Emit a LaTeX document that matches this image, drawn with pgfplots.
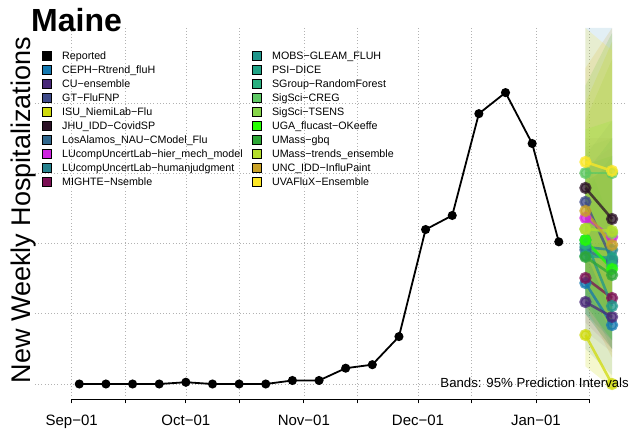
\documentclass[border=0pt]{standalone}
\usepackage{fontspec}
\setmainfont{Liberation Sans}
\usepackage{pgfplots}
\pgfplotsset{compat=1.18}
\definecolor{cCEPH}{HTML}{1478B0}
\definecolor{cCU}{HTML}{482878}
\definecolor{cGT}{HTML}{3E4A89}
\definecolor{cISU}{HTML}{CFDA0C}
\definecolor{cJHU}{HTML}{2B1126}
\definecolor{cLANL}{HTML}{31688E}
\definecolor{cLUh}{HTML}{CF23E0}
\definecolor{cLUj}{HTML}{26828E}
\definecolor{cMIG}{HTML}{7B0F54}
\definecolor{cMOBS}{HTML}{1F968B}
\definecolor{cPSI}{HTML}{20A386}
\definecolor{cSG}{HTML}{29AF7F}
\definecolor{cSSC}{HTML}{5DC863}
\definecolor{cSST}{HTML}{86D549}
\definecolor{cUGA}{HTML}{24FF00}
\definecolor{cGBQ}{HTML}{2DA636}
\definecolor{cUMT}{HTML}{B4DE2C}
\definecolor{cUNC}{HTML}{C9A227}
\definecolor{cUVA}{HTML}{FDE725}
\begin{document}
\begin{tikzpicture}
\path[use as bounding box] (0,0) rectangle (632pt,432pt);
\begin{axis}[
  at={(35pt,32.7pt)}, anchor=south west,
  scale only axis, width=590pt, height=371.3pt,
  xmin=-9.64, xmax=145.4, ymin=-8.72, ymax=202.8,
  clip=false,
  axis line style={draw=none},
  xtick={0,30,61,91,122},
  xticklabels={Sep−01,Oct−01,Nov−01,Dec−01,Jan−01},
  minor xtick={14,44,75,105,136},
  xtick pos=bottom, xtick align=outside,
  major tick length=4pt, minor tick length=4pt,
  xtick style={black, line width=0.8pt},
  minor tick style={black, line width=0.8pt},
  ytick={0,40,80,120,160}, yticklabels={}, ytick style={draw=none},
  xmajorgrids, xminorgrids, ymajorgrids,
  grid style={gray!60, line width=0.6pt, dash pattern=on 0.8pt off 2.4pt},
  minor grid style={gray!60, line width=0.6pt, dash pattern=on 0.8pt off 2.4pt},
  xticklabel style={font=\fontsize{15}{18}\selectfont, inner sep=0pt, anchor=base, yshift=-22.6pt},
  legend columns=2,
  legend cell align=left,
  legend image code/.code={\fill[#1] (0pt,-4.5pt) rectangle (9pt,4.5pt);},
  legend style={draw=none, fill=none, inner sep=0pt, outer sep=0pt,
    at={(0.0115,0.939)}, anchor=north west,
    font=\fontsize{10.7}{12}\selectfont,
    row sep=4pt,
    nodes={inner sep=0pt, text height=8.4pt, text depth=1.6pt},
    /tikz/every odd column/.style={column sep=11pt},
    /tikz/every even column/.style={column sep=9pt}},
]
% legend (column-major order interleaved)
\addlegendimage{fill=black}\addlegendentry{Reported}
\addlegendimage{fill=cMOBS}\addlegendentry{MOBS−GLEAM\_FLUH}
\addlegendimage{fill=cCEPH}\addlegendentry{CEPH−Rtrend\_fluH}
\addlegendimage{fill=cPSI}\addlegendentry{PSI−DICE}
\addlegendimage{fill=cCU}\addlegendentry{CU−ensemble}
\addlegendimage{fill=cSG}\addlegendentry{SGroup−RandomForest}
\addlegendimage{fill=cGT}\addlegendentry{GT−FluFNP}
\addlegendimage{fill=cSSC}\addlegendentry{SigSci−CREG}
\addlegendimage{fill=cISU}\addlegendentry{ISU\_NiemiLab−Flu}
\addlegendimage{fill=cSST}\addlegendentry{SigSci−TSENS}
\addlegendimage{fill=cJHU}\addlegendentry{JHU\_IDD−CovidSP}
\addlegendimage{fill=cUGA}\addlegendentry{UGA\_flucast−OKeeffe}
\addlegendimage{fill=cLANL}\addlegendentry{LosAlamos\_NAU−CModel\_Flu}
\addlegendimage{fill=cGBQ}\addlegendentry{UMass−gbq}
\addlegendimage{fill=cLUh}\addlegendentry{LUcompUncertLab−hier\_mech\_model}
\addlegendimage{fill=cUMT}\addlegendentry{UMass−trends\_ensemble}
\addlegendimage{fill=cLUj}\addlegendentry{LUcompUncertLab−humanjudgment}
\addlegendimage{fill=cUNC}\addlegendentry{UNC\_IDD−InfluPaint}
\addlegendimage{fill=cMIG}\addlegendentry{MIGHTE−Nsemble}
\addlegendimage{fill=cUVA}\addlegendentry{UVAFluX−Ensemble}

% 95% prediction bands: (135,lo) (142,lo) (142,hi) (135,hi)
\pgfplotsset{band/.style 2 args={fill=#1, fill opacity=#2, draw=none, forget plot}}
\addplot[band={cCEPH}{0.12}] coordinates {(135,20) (142,5) (142,202.8) (135,202.8)} -- cycle;
\addplot[band={cCU}{0.07}]   coordinates {(135,30) (142,18) (142,85) (135,75)} -- cycle;
\addplot[band={cGT}{0.07}]   coordinates {(135,70) (142,35) (142,140) (135,135)} -- cycle;
\addplot[band={cISU}{0.2}]   coordinates {(135,10) (142,-2) (142,60) (135,70)} -- cycle;
\addplot[band={cJHU}{0.05}]  coordinates {(135,85) (142,60) (142,140) (135,140)} -- cycle;
\addplot[band={cLANL}{0.09}] coordinates {(135,40) (142,20) (142,150) (135,130)} -- cycle;
\addplot[band={cLUh}{0.06}]  coordinates {(135,65) (142,45) (142,135) (135,125)} -- cycle;
\addplot[band={cLUj}{0.12}]  coordinates {(135,50) (142,35) (142,130) (135,110)} -- cycle;
\addplot[band={cMIG}{0.07}]  coordinates {(135,35) (142,20) (142,95) (135,90)} -- cycle;
\addplot[band={cMOBS}{0.15}] coordinates {(135,50) (142,20) (142,90) (135,130)} -- cycle;
\addplot[band={cPSI}{0.18}]  coordinates {(135,40) (142,25) (142,140) (135,120)} -- cycle;
\addplot[band={cSG}{0.18}]   coordinates {(135,45) (142,25) (142,130) (135,125)} -- cycle;
\addplot[band={cSSC}{0.22}]  coordinates {(135,80) (142,60) (142,200) (135,170)} -- cycle;
\addplot[band={cSST}{0.22}]  coordinates {(135,55) (142,35) (142,185) (135,150)} -- cycle;
\addplot[band={cUGA}{0.14}]  coordinates {(135,45) (142,25) (142,150) (135,145)} -- cycle;
\addplot[band={cGBQ}{0.18}]  coordinates {(135,40) (142,20) (142,125) (135,115)} -- cycle;
\addplot[band={cUMT}{0.22}]  coordinates {(135,55) (142,30) (142,195) (135,160)} -- cycle;
\addplot[band={cUNC}{0.16}]  coordinates {(135,45) (142,15) (142,202.8) (135,180)} -- cycle;
\addplot[band={cUVA}{0.18}]  coordinates {(135,75) (142,40) (142,190) (135,202.8)} -- cycle;

% reported
\addplot[black, line width=1.8pt, mark=*, mark size=3.6pt, forget plot] coordinates {
(2,0) (9,0) (16,0) (23,0) (30,1) (37,0) (44,0) (51,0) (58,2) (65,2)
(72,9) (79,11) (86,27) (93,88) (100,96) (107,154) (114,166) (121,137) (128,81)};

% forecasts (median)
\pgfplotsset{fc/.style={#1, line width=2.6pt, opacity=0.75, mark=*, mark size=4.8pt, mark options={fill=#1, draw=#1}, forget plot}}
\addplot[fc=cCEPH] coordinates {(135,57.5) (142,33.6)};
\addplot[fc=cCU]   coordinates {(135,46.7) (142,38.2)};
\addplot[fc=cGT]   coordinates {(135,103.7) (142,70.7)};
\addplot[fc=cISU]  coordinates {(135,27.9) (142,0)};
\addplot[fc=cJHU]  coordinates {(135,111.7) (142,94)};
\addplot[fc=cLANL] coordinates {(135,76.4) (142,69.5)};
\addplot[fc=cLUh]  coordinates {(135,94.6) (142,83.8)};
\addplot[fc=cLUj]  coordinates {(135,78) (142,76.4)};
\addplot[fc=cMIG]  coordinates {(135,60.4) (142,49)};
\addplot[fc=cMOBS] coordinates {(135,82) (142,44.4)};
\addplot[fc=cPSI]  coordinates {(135,73) (142,71.8)};
\addplot[fc=cSG]   coordinates {(135,79.8) (142,67.2)};
\addplot[fc=cSSC]  coordinates {(135,120.2) (142,120.2)};
\addplot[fc=cSST]  coordinates {(135,88.3) (142,86)};
\addplot[fc=cUGA]  coordinates {(135,82) (142,65.5)};
\addplot[fc=cGBQ]  coordinates {(135,72.4) (142,62.1)};
\addplot[fc=cUMT]  coordinates {(135,88.3) (142,87.2)};
\addplot[fc=cUNC]  coordinates {(135,98.6) (142,79.2)};
\addplot[fc=cUVA]  coordinates {(135,126.5) (142,121.4)};

% x axis line from first to last tick
\draw[black, line width=0.9pt] (axis cs:0,-8.72) -- (axis cs:136,-8.72);
\end{axis}
\node[anchor=base west, inner sep=0pt, font=\fontsize{32}{36}\selectfont\bfseries] at (31pt,400.3pt) {Maine};
\node[anchor=base, rotate=90, inner sep=0pt, font=\fontsize{27}{30}\selectfont] at (30.5pt,222pt) {New Weekly Hospitalizations};
\node[anchor=base east, inner sep=0pt, font=\fontsize{13.2}{15}\selectfont] at (629pt,44.3pt) {Bands: 95\% Prediction Intervals};
\end{tikzpicture}
\end{document}
